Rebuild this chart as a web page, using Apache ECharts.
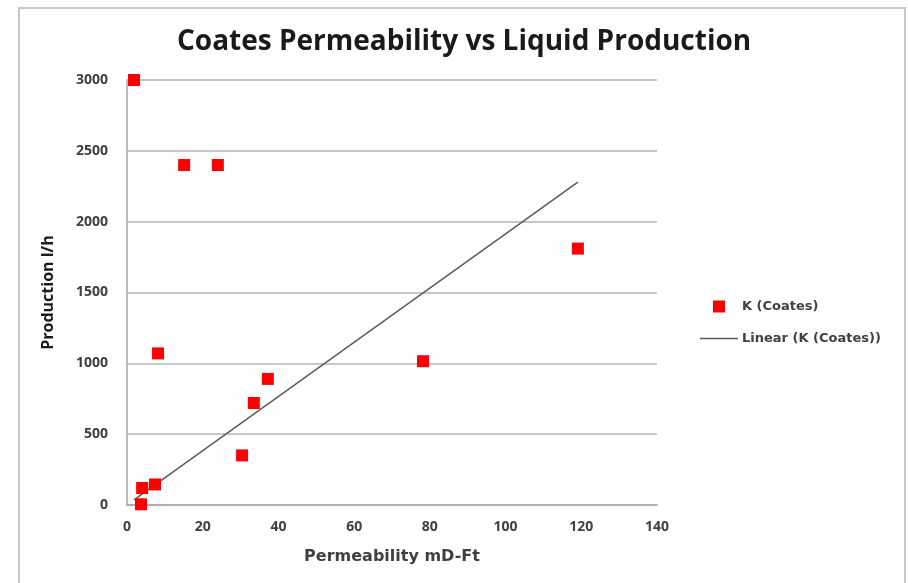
<!DOCTYPE html>
<html>
<head>
<meta charset="utf-8">
<script src="https://cdn.jsdelivr.net/npm/echarts@6/dist/echarts.min.js"></script>
<style>html,body{margin:0;padding:0;background:#fff}#c{width:908px;height:583px}</style>
</head>
<body>
<div id="c"></div>
<script>
// Data
const permeability = [1.85, 15.1, 24.0, 8.2, 37.2, 33.5, 30.4, 7.4, 4.0, 3.7, 78.2, 119.1];
const production   = [3000, 2400, 2400, 1070, 890, 720, 350, 145, 120, 5, 1015, 1810];
const xTicks = [0, 20, 40, 60, 80, 100, 120, 140];
const yTicks = [0, 500, 1000, 1500, 2000, 2500, 3000];

const points = permeability.map((x, i) => [x, production[i]]);
// Linear trendline with intercept fixed at 0 (least squares through origin)
let sxy = 0, sxx = 0;
permeability.forEach((x, i) => { sxy += x * production[i]; sxx += x * x; });
const slope = sxy / sxx;
const xMin = Math.min(...permeability), xMax = Math.max(...permeability);
const trend = [[xMin, slope * xMin], [xMax, slope * xMax]];

const chart = echarts.init(document.getElementById('c'));
const tickFont = {color: '#404040', fontFamily: 'Open Sans', fontWeight: 'bold', fontSize: 14};
chart.setOption({
  animation: false,
  backgroundColor: '#fff',
  graphic: [{
    type: 'rect', shape: {x: 19, y: 8, width: 886, height: 600},
    style: {fill: 'none', stroke: '#c8c8c8', lineWidth: 2}, z: -10
  }],
  title: {
    text: 'Coates Permeability vs Liquid Production',
    left: 172, top: 23,
    textStyle: {fontFamily: 'Open Sans', fontWeight: 'bold', fontSize: 28, color: '#1a1a1a'}
  },
  grid: {left: 127, right: 251, top: 80, bottom: 78},
  xAxis: {
    type: 'value', min: 0, max: 140, interval: 20,
    name: 'Permeability mD-Ft', nameLocation: 'middle', nameGap: 44,
    nameTextStyle: {fontFamily: 'DejaVu Sans', fontWeight: 'bold', fontSize: 16, color: '#404040'},
    axisLine: {show: true, lineStyle: {color: '#a6a6a6', width: 1.5}},
    axisTick: {show: false},
    splitLine: {show: false},
    axisLabel: Object.assign({margin: 15, formatter: v => String(v)}, tickFont)
  },
  yAxis: {
    type: 'value', min: 0, max: 3000, interval: 500,
    name: 'Production l/h', nameLocation: 'middle', nameGap: 71,
    nameTextStyle: {fontFamily: 'Open Sans', fontWeight: 'bold', fontSize: 16, color: '#1a1a1a'},
    axisLine: {show: true, lineStyle: {color: '#a6a6a6', width: 1.5}},
    axisTick: {show: false},
    splitLine: {show: true, lineStyle: {color: '#b4b4b4', width: 1.5}},
    axisLabel: Object.assign({margin: 19, formatter: v => String(v)}, tickFont)
  },
  legend: [{
    data: [{name: 'K (Coates)', icon: 'rect'}],
    orient: 'vertical', left: 713, top: 300, padding: 0,
    itemWidth: 12, itemHeight: 12,
    textStyle: {fontFamily: 'DejaVu Sans', fontWeight: 'bold', fontSize: 13, color: '#404040', padding: [0, 0, 0, 12]}
  }, {
    data: [{name: 'Linear (K (Coates))', icon: 'rect'}],
    orient: 'vertical', left: 700, top: 332, padding: 0,
    itemWidth: 38, itemHeight: 1.5,
    textStyle: {fontFamily: 'DejaVu Sans', fontWeight: 'bold', fontSize: 13, color: '#404040', padding: [0, 0, 0, -1]}
  }],
  series: [{
    name: 'K (Coates)', type: 'scatter', data: points,
    symbol: 'rect', symbolSize: 12,
    itemStyle: {color: '#ff0000', opacity: 1}, z: 3
  }, {
    name: 'Linear (K (Coates))', type: 'line', data: trend,
    symbol: 'none', lineStyle: {color: '#5a5a5a', width: 1.5},
    itemStyle: {color: '#5a5a5a'}, z: 2
  }]
});
</script>
</body>
</html>
